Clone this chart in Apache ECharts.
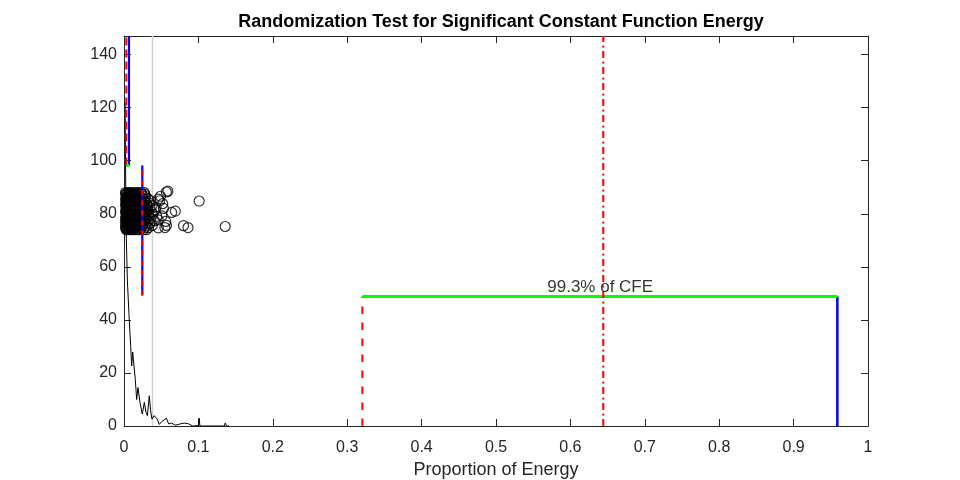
<!DOCTYPE html>
<html>
<head>
<meta charset="utf-8">
<script src="https://cdn.jsdelivr.net/npm/echarts@6/dist/echarts.min.js"></script>
<style>html,body{margin:0;padding:0;background:#fff}#c{width:960px;height:480px}</style>
</head>
<body>
<div id="c"></div>
<script>
const titleText = 'Randomization Test for Significant Constant Function Energy';
const xLabel = 'Proportion of Energy';
const annotText = '99.3% of CFE';
const xTicks = [0,0.1,0.2,0.3,0.4,0.5,0.6,0.7,0.8,0.9,1];
const yTicks = [0,20,40,60,80,100,120,140];
const yMax = 147;

// black density curve
const curve = [[0.0015,122],[0.002,100],[0.003,72],[0.0045,55],[0.0067,42],[0.0077,36.6],[0.009,30],[0.0103,22.6],[0.0117,27.9],[0.0134,22.6],[0.0152,17.6],[0.017,10],[0.0188,14.5],[0.0215,8.9],[0.0246,4.5],[0.0273,8.9],[0.0296,5.1],[0.0314,3.9],[0.034,11.4],[0.0358,5.7],[0.0376,2.6],[0.0403,3.9],[0.044,2.9],[0.0475,0.6],[0.0506,1.6],[0.053,0.9],[0.057,2.9],[0.06,0.8],[0.064,1.1],[0.069,0.3],[0.0757,0.8],[0.081,1.1],[0.087,0.8],[0.0925,0],[0.1,0.2],[0.101,3.0],[0.102,0],[0.135,0],[0.136,1.1],[0.138,0],[0.141,0]];

// circles (proportion, value)
const circles = [
[0.003,74.0],[0.006,74.0],[0.010,74.0],[0.013,74.0],[0.017,74.0],[0.021,74.0],[0.026,74.0],[0.030,74.0],
[0.002,74.8],[0.005,74.8],[0.009,74.8],[0.012,74.8],[0.016,74.8],[0.019,74.8],[0.023,74.8],[0.028,74.8],[0.033,74.8],
[0.004,75.6],[0.007,75.6],[0.011,75.6],[0.014,75.6],[0.018,75.6],[0.022,75.6],[0.025,75.6],[0.031,75.6],[0.038,75.6],
[0.002,76.5],[0.006,76.5],[0.009,76.5],[0.013,76.5],[0.016,76.5],[0.020,76.5],[0.024,76.5],[0.029,76.5],[0.035,76.5],
[0.003,77.3],[0.005,77.3],[0.008,77.3],[0.012,77.3],[0.015,77.3],[0.019,77.3],[0.023,77.3],[0.027,77.3],[0.032,77.3],[0.041,77.3],
[0.002,78.1],[0.006,78.1],[0.010,78.1],[0.013,78.1],[0.017,78.1],[0.021,78.1],[0.026,78.1],[0.030,78.1],[0.036,78.1],
[0.004,79.0],[0.007,79.0],[0.011,79.0],[0.014,79.0],[0.018,79.0],[0.022,79.0],[0.025,79.0],[0.029,79.0],[0.034,79.0],[0.044,79.0],
[0.003,79.8],[0.005,79.8],[0.009,79.8],[0.012,79.8],[0.016,79.8],[0.020,79.8],[0.024,79.8],[0.028,79.8],[0.033,79.8],[0.039,79.8],
[0.002,80.7],[0.006,80.7],[0.010,80.7],[0.013,80.7],[0.017,80.7],[0.021,80.7],[0.026,80.7],[0.031,80.7],[0.037,80.7],
[0.004,81.5],[0.008,81.5],[0.011,81.5],[0.015,81.5],[0.019,81.5],[0.023,81.5],[0.027,81.5],[0.032,81.5],[0.042,81.5],
[0.003,82.3],[0.006,82.3],[0.009,82.3],[0.012,82.3],[0.016,82.3],[0.020,82.3],[0.024,82.3],[0.029,82.3],[0.035,82.3],
[0.002,83.2],[0.005,83.2],[0.008,83.2],[0.011,83.2],[0.014,83.2],[0.018,83.2],[0.022,83.2],[0.027,83.2],[0.031,83.2],[0.038,83.2],
[0.004,84.0],[0.007,84.0],[0.010,84.0],[0.013,84.0],[0.017,84.0],[0.021,84.0],[0.025,84.0],[0.030,84.0],[0.034,84.0],
[0.003,84.9],[0.006,84.9],[0.009,84.9],[0.012,84.9],[0.016,84.9],[0.019,84.9],[0.023,84.9],[0.028,84.9],[0.036,84.9],
[0.002,85.7],[0.005,85.7],[0.008,85.7],[0.011,85.7],[0.015,85.7],[0.018,85.7],[0.022,85.7],[0.026,85.7],[0.032,85.7],
[0.004,86.5],[0.007,86.5],[0.010,86.5],[0.014,86.5],[0.017,86.5],[0.021,86.5],[0.025,86.5],[0.029,86.5],
[0.003,87.3],[0.006,87.3],[0.009,87.3],[0.012,87.3],[0.016,87.3],[0.020,87.3],[0.024,87.3],[0.028,87.3],
[0.002,88.0],[0.005,88.0],[0.008,88.0],[0.011,88.0],[0.015,88.0],[0.019,88.0],[0.023,88.0],[0.027,88.0],
[0.004,74.4],[0.008,75.2],[0.012,76.1],[0.006,76.9],[0.010,77.7],[0.004,78.5],[0.014,79.4],[0.008,80.2],[0.012,81.1],[0.006,81.9],
[0.010,82.7],[0.004,83.6],[0.014,84.4],[0.008,85.3],[0.012,86.1],[0.006,86.9],[0.010,87.7],[0.015,75.0],[0.018,77.0],[0.016,79.0],
[0.019,81.0],[0.015,83.0],[0.018,85.0],[0.016,87.0],[0.020,78.6],[0.020,84.4],[0.013,80.3],[0.007,82.8],[0.011,84.6],[0.005,79.2],
[0.0035,74.3],[0.0075,74.6],[0.0115,74.3],[0.0155,74.5],[0.0195,74.2],[0.0025,75.3],[0.0065,75.9],[0.0105,75.4],[0.0145,75.9],[0.0185,75.3],
[0.0045,76.2],[0.0085,76.0],[0.0125,76.7],[0.0165,76.1],[0.0205,76.8],[0.0035,77.6],[0.0075,77.1],[0.0115,77.5],[0.0155,77.9],[0.0195,77.6],
[0.0025,78.7],[0.0065,78.4],[0.0105,78.8],[0.0145,78.3],[0.0185,78.9],[0.0045,79.6],[0.0085,79.5],[0.0125,79.9],[0.0165,79.4],[0.0205,79.7],
[0.0035,80.4],[0.0075,80.9],[0.0115,80.5],[0.0155,80.8],[0.0195,80.3],[0.0025,81.2],[0.0065,81.6],[0.0105,81.3],[0.0145,81.8],[0.0185,81.4],
[0.0045,82.6],[0.0085,82.1],[0.0125,82.5],[0.0165,82.8],[0.0205,82.2],[0.0035,83.5],[0.0075,83.8],[0.0115,83.4],[0.0155,83.7],[0.0195,83.3],
[0.0025,84.2],[0.0065,84.6],[0.0105,84.1],[0.0145,84.7],[0.0185,84.3],[0.0045,85.4],[0.0085,85.9],[0.0125,85.5],[0.0165,85.2],[0.0205,85.8],
[0.0035,86.2],[0.0075,86.7],[0.0115,86.3],[0.0155,86.8],[0.0195,86.4],[0.0025,87.5],[0.0065,87.8],[0.0105,87.2],[0.0145,87.6],[0.0185,87.9],
[0.057,88.2],[0.059,88.5],[0.101,84.8],[0.136,75.2],[0.080,75.5],[0.086,74.8],[0.069,81.0],[0.064,80.5],[0.053,82.0],[0.056,77.1],
[0.057,75.6],[0.048,84.9],[0.046,85.5],[0.046,74.7],[0.051,79.2],[0.046,77.7],[0.055,74.8],[0.043,82.5],[0.049,86.6],[0.052,83.8]
];

// reference lines: [x, y] endpoints
const redSmall   = [[0.0031,98.2],[0.0031,yMax]];
const blueSmall  = [[0.0067,98.2],[0.0067,yMax]];
const greenSmall = [[0.0031,98.2],[0.0067,98.2]];
const blueMid    = [[0.0246,49.2],[0.0246,98.2]];
const redMid     = [[0.0246,49.2],[0.0246,98.2]];
const greenMid   = [[0.0242,49.2],[0.0250,49.2]];
const redBig     = [[0.3204,0],[0.3204,48.8]];
const greenBig   = [[0.3204,48.8],[0.9588,48.8]];
const blueBig    = [[0.9588,0],[0.9588,48.8]];
const redDashDot = [[0.6442,0],[0.6442,yMax]];
const grayLine   = [[0.0383,0],[0.0383,yMax]];
const annotPos   = [[0.64,48.8]];

const FONT = 'Liberation Sans, Arial, Helvetica, sans-serif';
const AX = '#262626';
const chart = echarts.init(document.getElementById('c'));

function seg(data, color, width, type, z) {
  return {type:'line', data:data, symbol:'none', silent:true, z:z||3,
    lineStyle:{color:color, width:width, type:type||'solid', cap:'butt'}, animation:false};
}

chart.setOption({
  animation:false,
  title:{text:titleText, left:496, top:8, textAlign:'center',
    textStyle:{fontFamily:FONT, fontSize:18, fontWeight:'bold', color:'#000'}},
  grid:{left:124, right:92, top:36, bottom:54, containLabel:false, outerBoundsMode:'none'},
  xAxis:[{type:'value', min:0, max:1, interval:0.1, position:'bottom',
      name:xLabel, nameLocation:'middle', nameGap:34,
      nameTextStyle:{fontFamily:FONT, fontSize:18, color:AX},
      axisLine:{onZero:false, lineStyle:{color:AX, width:1}},
      axisTick:{inside:true, length:7, lineStyle:{color:AX}},
      axisLabel:{fontFamily:FONT, fontSize:16, color:AX, margin:14,
        formatter:function(v){return String(xTicks.find(t=>Math.abs(t-v)<1e-9) ?? v);}},
      splitLine:{show:false}},
    {type:'value', min:0, max:1, interval:0.1, position:'top',
      axisLine:{onZero:false, lineStyle:{color:AX, width:1}},
      axisTick:{inside:true, length:7, lineStyle:{color:AX}},
      axisLabel:{show:false}, splitLine:{show:false}}],
  yAxis:[{type:'value', min:0, max:yMax, interval:20, position:'left',
      axisLine:{show:true, onZero:false, lineStyle:{color:AX, width:1}},
      axisTick:{show:true, inside:true, length:7, lineStyle:{color:AX}},
      axisLabel:{fontFamily:FONT, fontSize:16, color:AX, margin:7, showMaxLabel:false,
        formatter:function(v){return yTicks.indexOf(v)>=0 ? String(v) : '';}},
      splitLine:{show:false}},
    {type:'value', min:0, max:yMax, interval:20, position:'right',
      axisLine:{show:true, onZero:false, lineStyle:{color:AX, width:1}},
      axisTick:{show:true, inside:true, length:7, lineStyle:{color:AX}},
      axisLabel:{show:false}, splitLine:{show:false}}],
  series:[
    seg(grayLine, '#d0d0d0', 1.5, 'solid', 1),
    {type:'line', data:curve, symbol:'none', silent:true, z:2,
      lineStyle:{color:'#000', width:1}},
    {type:'scatter', data:circles, symbol:'circle', symbolSize:10, silent:true, z:2,
      itemStyle:{color:'rgba(0,0,0,0)', borderColor:'#000', borderWidth:1.2}},
    seg(blueSmall, '#0000ff', 2.2),
    seg(redSmall, '#ff0000', 2, [8,4]),
    seg(greenSmall, '#00ff00', 3),
    seg(blueMid, '#0000ff', 2.2),
    seg(redMid, '#ff0000', 2, [5,5]),
    seg(greenMid, '#00ff00', 3),
    seg(redBig, '#ff0000', 2, [7.5,8.5]),
    seg(blueBig, '#0000ff', 2.5),
    seg(greenBig, '#00ff00', 3, 'solid', 4),
    seg(redDashDot, '#ff0000', 2, [7,3.5,2,3.5], 5),
    {type:'scatter', data:annotPos, symbolSize:0, silent:true, z:6,
      label:{show:true, position:'top', distance:1, formatter:annotText,
        fontFamily:FONT, fontSize:17, color:'#000'}}
  ]
});
</script>
</body>
</html>
